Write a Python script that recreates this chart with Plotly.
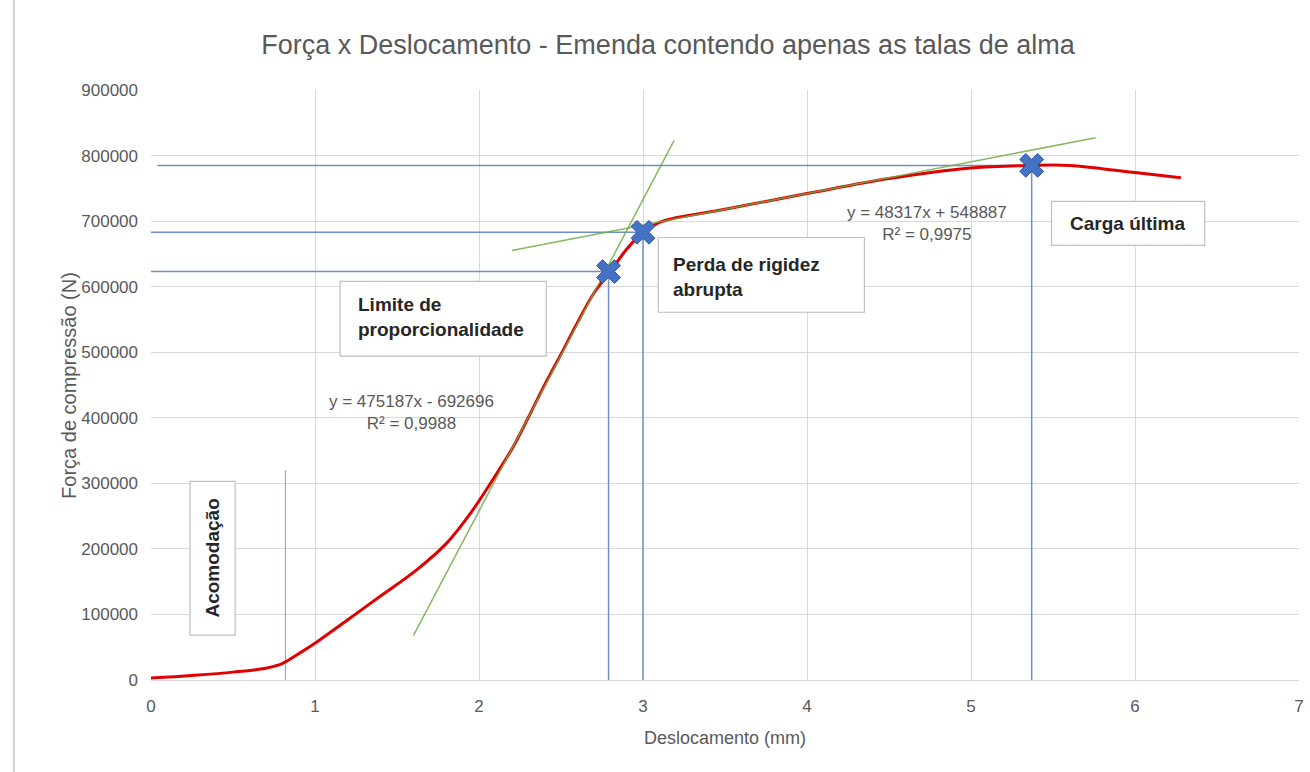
import plotly.graph_objects as go

# ---- data ----
disp = [0, 0.25, 0.5, 0.7, 0.8, 0.9, 1.0, 1.2, 1.4, 1.62, 1.8, 1.95, 2.07, 2.2, 2.3, 2.4, 2.5,
        2.6, 2.7, 2.8, 2.9, 3.0, 3.1, 3.2, 3.5, 4.0, 4.5, 5.0, 5.37, 5.6, 5.8, 6.0, 6.28]
force = [3000, 7000, 12000, 18000, 25000, 40000, 56000, 92000, 128000, 168000, 208000, 255000,
         300000, 352000, 400000, 450000, 497000, 545000, 590000, 623000, 657000, 683000, 698000,
         705000, 718000, 742000, 765000, 781000, 785000, 785000, 780000, 774000, 766000]

# key points (markers)
key_x = [2.79, 3.0, 5.37]
key_y = [623000, 683000, 785000]

# trendlines: slope, intercept, x-extent
trend_slope = [475187, 48317]
trend_intercept = [-692696, 548887]
trend_x0 = [1.6, 2.2]
trend_x1 = [3.19, 5.76]
trend_labels = ["y = 475187x - 692696<br>R² = 0,9988", "y = 48317x + 548887<br>R² = 0,9975"]

# reference lines
acom_x = 0.82
acom_top = 320000
hline_start = [0.0, 0.0, 0.04]

title = "Força x Deslocamento - Emenda contendo apenas as talas de alma"
x_title = "Deslocamento (mm)"
y_title = "Força de compressão (N)"

GRAY = "#595959"
GRID = "#d9d9d9"
BLUE_REF = "#6f8fc8"
FONT = "Liberation Sans"

fig = go.Figure()

# reference lines (horizontal and vertical to key points)
for xs, ys, xk, yk in zip(hline_start, key_y, key_x, key_y):
    fig.add_trace(go.Scatter(x=[xs, xk], y=[ys, yk], mode="lines",
                             line=dict(color=BLUE_REF, width=1.5), hoverinfo="skip", showlegend=False))
    fig.add_trace(go.Scatter(x=[xk, xk], y=[0, yk], mode="lines",
                             line=dict(color=BLUE_REF, width=1.5), hoverinfo="skip", showlegend=False))
fig.add_trace(go.Scatter(x=[acom_x, acom_x], y=[0, acom_top], mode="lines",
                         line=dict(color="#8fa8d3", width=1.2), hoverinfo="skip", showlegend=False))

# main curve
fig.add_trace(go.Scatter(x=disp, y=force, mode="lines", line=dict(color="#e00000", width=3),
                         line_shape="spline", showlegend=False))

# trendlines
for m, b, a0, a1 in zip(trend_slope, trend_intercept, trend_x0, trend_x1):
    fig.add_trace(go.Scatter(x=[a0, a1], y=[m * a0 + b, m * a1 + b], mode="lines",
                             line=dict(color="#70ad47", width=1.5), opacity=0.85,
                             hoverinfo="skip", showlegend=False))

# markers
fig.add_trace(go.Scatter(x=key_x, y=key_y, mode="markers",
                         marker=dict(symbol="x", size=21, color="#4472c4",
                                     line=dict(color="#2f5597", width=1)),
                         showlegend=False))

# text boxes
boxes = [
    dict(x0=0.238, x1=0.513, y0=68600, y1=303000),
    dict(x0=1.153, x1=2.41, y0=494000, y1=608000),
    dict(x0=3.093, x1=4.35, y0=561000, y1=675000),
    dict(x0=5.491, x1=6.425, y0=663000, y1=730000),
]
for bx in boxes:
    fig.add_shape(type="rect", xref="x", yref="y", x0=bx["x0"], x1=bx["x1"], y0=bx["y0"], y1=bx["y1"],
                  line=dict(color="#bfbfbf", width=1.2), fillcolor="white", layer="above")

BOX_FONT = dict(family=FONT, size=19, color="#262626")
fig.add_annotation(x=0.375, y=186000, text="<b>Acomodação</b>", textangle=-90, showarrow=False,
                   font=BOX_FONT)
fig.add_annotation(x=1.25, y=553000, text="<b>Limite de<br>proporcionalidade</b>", showarrow=False,
                   xanchor="left", align="left", font=BOX_FONT)
fig.add_annotation(x=3.17, y=615000, text="<b>Perda de rigidez<br>abrupta</b>", showarrow=False,
                   xanchor="left", align="left", font=BOX_FONT)
fig.add_annotation(x=5.958, y=697000, text="<b>Carga última</b>", showarrow=False,
                   font=BOX_FONT)

# equations
fig.add_annotation(x=1.586, y=408500, text=trend_labels[0], showarrow=False,
                   font=dict(family=FONT, size=17, color=GRAY))
fig.add_annotation(x=4.729, y=696600, text=trend_labels[1], showarrow=False,
                   font=dict(family=FONT, size=17, color=GRAY))

# y axis title
fig.add_annotation(xref="paper", yref="paper", x=(56 - 151) / 1147, y=0.5, text=y_title, textangle=-90,
                   showarrow=False, font=dict(family=FONT, size=20, color=GRAY))

# outer chart border (left edge)
fig.add_shape(type="line", xref="paper", yref="paper", x0=(14 - 151) / 1147, x1=(14 - 151) / 1147,
              y0=-0.2, y1=1.2, line=dict(color="#d0d0d0", width=2))

fig.update_layout(
    width=1310, height=772,
    margin=dict(l=151, r=6, t=90, b=92),
    paper_bgcolor="white", plot_bgcolor="white",
    title=dict(text=title, x=668 / 1310, xanchor="center", y=1 - 45 / 772, yanchor="middle",
               font=dict(family=FONT, size=27, color=GRAY)),
    xaxis=dict(range=[0, 7], dtick=1, showgrid=True, gridcolor=GRID, gridwidth=1,
               zeroline=False, showline=False, ticks="", ticklabelstandoff=14,
               tickfont=dict(family=FONT, size=17, color=GRAY),
               title=dict(text=x_title, font=dict(family=FONT, size=18, color=GRAY), standoff=16)),
    yaxis=dict(range=[0, 900000], dtick=100000, tickformat="d", showgrid=True, gridcolor=GRID,
               gridwidth=1, zeroline=True, zerolinecolor=GRID, zerolinewidth=1, showline=False,
               ticks="", ticklabelstandoff=12,
               tickfont=dict(family=FONT, size=17, color=GRAY)),
)

fig.write_html("out.html", config={"displayModeBar": False},
               post_script="document.body.style.margin='0px';")
